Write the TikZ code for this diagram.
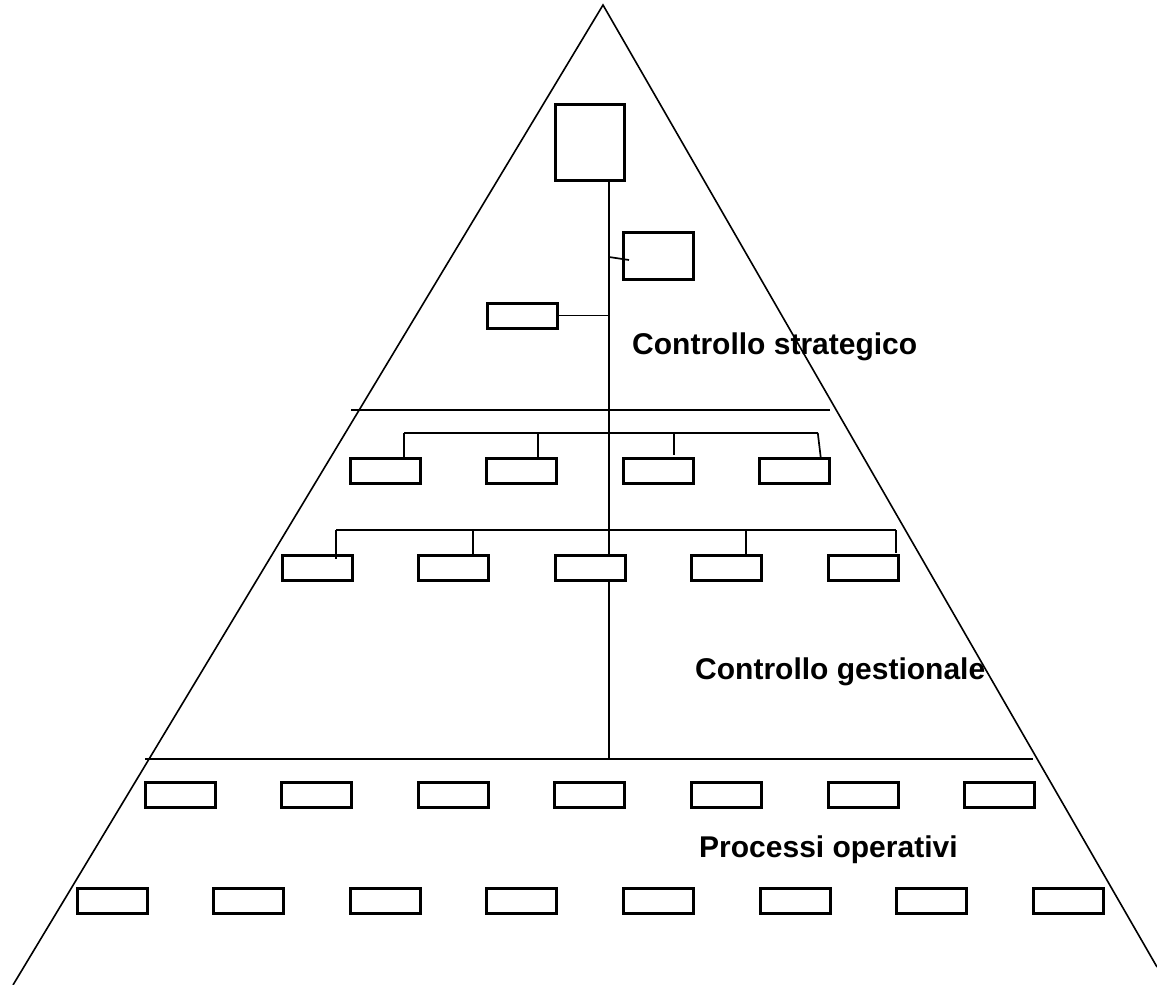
\documentclass[tikz,border=0pt]{standalone}
\usepackage{fontspec}
\setmainfont{Liberation Sans}
\begin{document}
\begin{tikzpicture}[x=1pt,y=-1pt,
  unit/.style={draw=black, line width=3pt, minimum width=70pt, minimum height=25pt,
               inner sep=0pt, outer sep=0pt},
  level/.style={font=\bfseries\fontsize{30}{36}\selectfont, anchor=base west, inner sep=0pt},
  edge/.style={line width=1.7pt},
  divider/.style={line width=2.6pt},
  outline/.style={line width=1.6pt}]
\useasboundingbox (0,0) rectangle (1157,985);

% pyramid outline and level dividers
\draw[outline] (13,985) -- (603,5) -- (1157,967);
\draw[divider] (351,410) -- (830,410);
\draw[divider] (145,759) -- (1033,759);

% strategic level
\node[unit, minimum width=69pt, minimum height=76pt] (top) at (589.5,142) {};
\node[unit, minimum height=47pt] (staffR) at (658,255.5) {};
\node[unit] (staffL) at (522,315.5) {};

% management level, two rows of units
\foreach \i in {1,...,4}
  \node[unit] (A\i) at ({385+136.6*(\i-1)},470.5) {};
\foreach \i in {1,...,5}
  \node[unit] (B\i) at ({317+136.6*(\i-1)},567.5) {};

% operational level, two rows of units
\foreach \i in {1,...,7}
  \node[unit] (C\i) at ({180+136.6*(\i-1)},795) {};
\foreach \i in {1,...,8}
  \node[unit] (D\i) at ({112+136.6*(\i-1)},901) {};

% helper coordinates
\coordinate (spine) at (609,0);
\coordinate (busA) at (0,433);
\coordinate (busB) at (0,530);
\coordinate (base) at (0,759);

% central spine
\draw[edge] (top.south -| spine) -- (B3.north -| spine);
\draw[edge] (B3.south -| spine) -- (base -| spine);

% staff branches
\draw[edge] (spine |- 0,257) -- ([xshift=6pt,yshift=-4.5pt]staffR.west);
\draw[edge] (staffL.east) -- (staffL.east -| spine);

% first management row
\draw[edge] ([xshift=19pt]A1.north |- busA) -- ([xshift=23pt]A4.north |- busA);
\draw[edge] ([xshift=19pt]A1.north |- busA) -- ([xshift=19pt]A1.north);
\draw[edge] ([xshift=16.4pt]A2.north |- busA) -- ([xshift=16.4pt]A2.north);
\draw[edge] ([xshift=15.8pt]A3.north |- busA) -- ([xshift=15.8pt,yshift=3pt]A3.north);
\draw[edge] ([xshift=23pt]A4.north |- busA) -- ([xshift=26pt]A4.north);

% second management row
\draw[edge] ([xshift=19pt]B1.north |- busB) -- ([xshift=32.6pt]B5.north |- busB);
\draw[edge] ([xshift=19pt]B1.north |- busB) -- ([xshift=19pt,yshift=-4pt]B1.north);
\draw[edge] ([xshift=19.4pt]B2.north |- busB) -- ([xshift=19.4pt]B2.north);
\draw[edge] ([xshift=19.2pt]B4.north |- busB) -- ([xshift=19.2pt]B4.north);
\draw[edge] ([xshift=32.6pt]B5.north |- busB) -- ([xshift=32.6pt,yshift=2pt]B5.north);

% level labels
\node[level] (lblS) at (632,354) {Controllo strategico};
\node[level] (lblG) at (695,679) {Controllo gestionale};
\node[level] (lblP) at (699,857) {Processi operativi};
\end{tikzpicture}
\end{document}
